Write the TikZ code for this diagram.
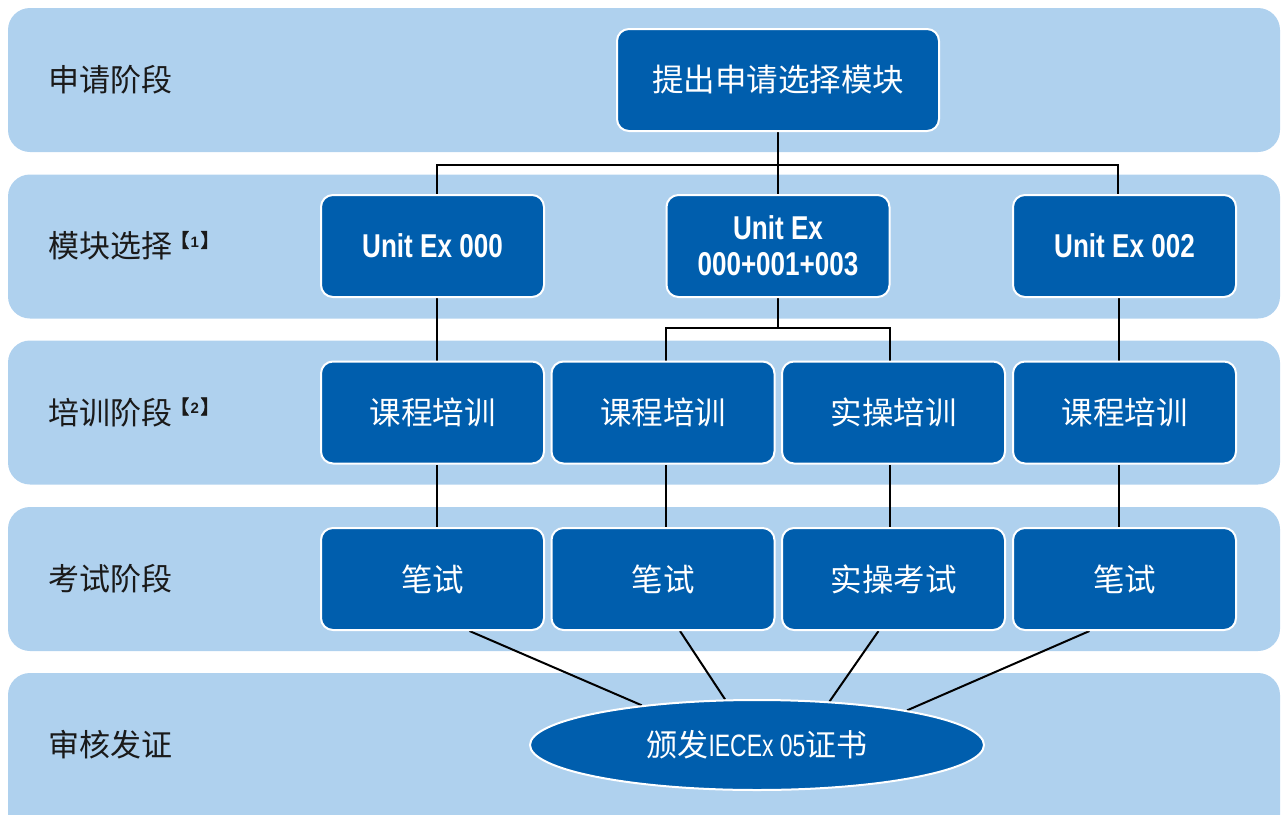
\documentclass[tikz,border=0pt]{standalone}
\usepackage{fontspec}
\setmainfont{Noto Sans CJK SC}
\newfontfamily\notebold[FakeBold=2.5]{Noto Sans CJK SC}
\newfontfamily\digitbold{Liberation Sans}
\newfontfamily\condb[FakeStretch=0.79]{Liberation Sans}
\newfontfamily\condl[FakeStretch=0.74]{Liberation Sans}
\usetikzlibrary{shapes.geometric}
\definecolor{bandblue}{HTML}{AFD1EE}
\definecolor{boxblue}{HTML}{005EAD}
\definecolor{labeltext}{HTML}{1A1A1A}
\pgfdeclarelayer{back}
\pgfdeclarelayer{mid}
\pgfsetlayers{back,mid,main}
\newcommand{\notemark}[1]{【\kern1.5pt{\digitbold\bfseries\fontsize{15}{18}\selectfont #1}\kern1.5pt】}
\begin{document}
\begin{tikzpicture}[x=1pt,y=-1pt,
  band/.style={fill=bandblue, rounded corners=22pt, draw=none, inner sep=0pt,
    minimum width=1272pt, minimum height=144pt},
  box/.style={fill=boxblue, draw=white, line width=2pt, rounded corners=12pt,
    minimum width=223pt, minimum height=102pt, text=white, inner sep=0pt,
    align=center, font=\fontsize{31.5}{36}\selectfont},
  unitbox/.style={box, font=\condb\bfseries\fontsize{33}{36}\selectfont},
  lbl/.style={anchor=west, inner sep=0pt, text=labeltext, font=\fontsize{31}{36}\selectfont},
  note/.style={anchor=west, inner sep=0pt, text=labeltext, font=\notebold\fontsize{19}{20}\selectfont},
  conn/.style={draw=black, line width=2pt},
  cert/.style={ellipse, fill=boxblue, draw=white, line width=2pt, inner sep=0pt,
    minimum width=454pt, minimum height=90pt, text=white, font=\fontsize{31}{36}\selectfont}]
\useasboundingbox (0,0) rectangle (1285,814);
\clip (0,0) rectangle (1285,814);

% bands
\begin{pgfonlayer}{back}
\node[band] (band1) at (644,80) {};
\node[band] (band2) at (644,246.5) {};
\node[band] (band3) at (644,412.5) {};
\node[band] (band4) at (644,579) {};
\node[band, minimum height=180pt] (band5) at (644,763) {};
\end{pgfonlayer}

% stage labels
\node[lbl] (l1) at (48,80) {申请阶段};
\node[lbl] (l2) at (48,246) {模块选择};
\node[note] (n1) at (170,240) {\notemark{1}};
\node[lbl] (l3) at (48,412.5) {培训阶段};
\node[note] (n2) at (170,406.5) {\notemark{2}};
\node[lbl] (l4) at (48,579) {考试阶段};
\node[lbl] (l5) at (48,745) {审核发证};

% boxes
\node[box, minimum width=322pt] (top) at (778,80) {提出申请选择模块};
\node[unitbox] (u1) at (432.5,246) {Unit Ex 000};
\node[unitbox] (u2) at (778,246) {Unit Ex\\000+001+003};
\node[unitbox] (u3) at (1124.5,246) {Unit Ex 002};

\node[box] (t1) at (432.5,412.5) {课程培训};
\node[box] (t2) at (663,412.5) {课程培训};
\node[box] (t3) at (893.5,412.5) {实操培训};
\node[box] (t4) at (1124.5,412.5) {课程培训};

\node[box] (e1) at (432.5,579) {笔试};
\node[box] (e2) at (663,579) {笔试};
\node[box] (e3) at (893.5,579) {实操考试};
\node[box] (e4) at (1124.5,579) {笔试};

\node[cert] (cert) at (757,745) {颁发{\condl IECEx 05}证书};

% connectors
\begin{pgfonlayer}{mid}
\coordinate (j1) at (778,165);
\coordinate (j2) at (778,328);
\draw[conn] (top.south) -- (j1);
\draw[conn] (j1) -- (u2.north);
\draw[conn] ([xshift=4.5pt]u1.north) |- (j1) -| ([xshift=-6.5pt]u3.north);
\draw[conn] ([xshift=4.5pt]u1.south) -- ([xshift=4.5pt]t1.north);
\draw[conn] (u2.south) -- (j2);
\draw[conn] ([xshift=3pt]t2.north) |- (j2) -| ([xshift=-3.5pt]t3.north);
\draw[conn] ([xshift=-5.5pt]u3.south) -- ([xshift=-5.5pt]t4.north);
\draw[conn] ([xshift=4.5pt]t1.south) -- ([xshift=4.5pt]e1.north);
\draw[conn] ([xshift=3pt]t2.south) -- ([xshift=3pt]e2.north);
\draw[conn] ([xshift=-3.5pt]t3.south) -- ([xshift=-3.5pt]e3.north);
\draw[conn] ([xshift=-5.5pt]t4.south) -- ([xshift=-5.5pt]e4.north);
\draw[conn] ([xshift=37pt]e1.south) -- (cert.161);
\draw[conn] ([xshift=17pt]e2.south) -- (cert.125);
\draw[conn] ([xshift=-15pt]e3.south) -- (cert.31);
\draw[conn] ([xshift=-35pt]e4.south) -- (cert.13);
\end{pgfonlayer}
\end{tikzpicture}
\end{document}
